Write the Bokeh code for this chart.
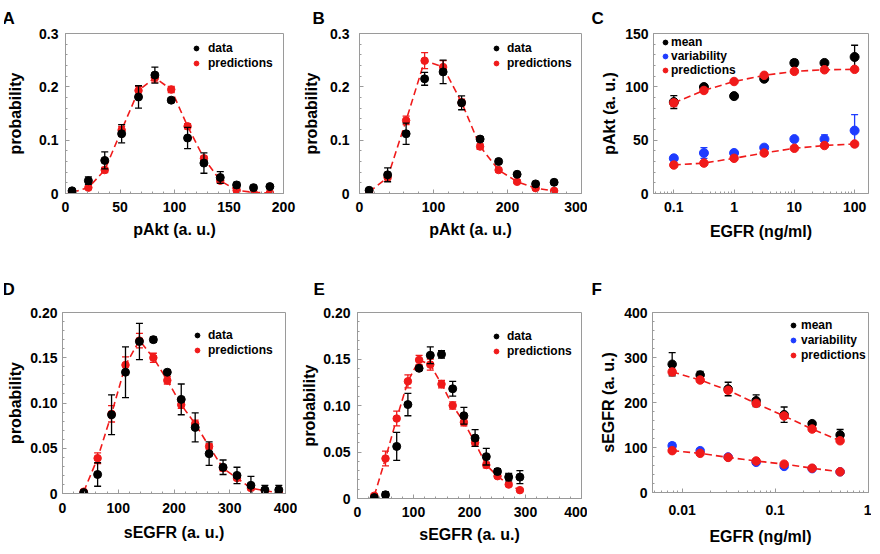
from bokeh.plotting import figure
from bokeh.models import (Range1d, FixedTicker, ColumnDataSource, Legend, LegendItem, Spacer)
from bokeh.layouts import row, column
from bokeh.embed import file_html
from bokeh.resources import INLINE

FONT = "Liberation Sans"
RED = "#f01a1a"
BLACK = "#000000"
BLUE = "#1e3cff"
GRAY = "#9a9a9a"

# ---------------- data ----------------
# Panel A: pAkt distribution
a_x = [6, 21, 36, 51.5, 67, 82, 97, 112, 127, 142, 157, 172.5, 187.5]
a_data = [0.005, 0.024, 0.062, 0.112, 0.181, 0.222, 0.175, 0.104, 0.057, 0.030, 0.016, 0.011, 0.013]
a_data_err = [0.002, 0.007, 0.016, 0.017, 0.021, 0.015, 0.004, 0.020, 0.019, 0.011, 0.005, 0.004, 0.003]
a_pred = [0.002, 0.011, 0.044, 0.119, 0.193, 0.217, 0.195, 0.126, 0.066, 0.024, 0.006, 0.002, 0.001]
a_pred_err = [0.001, 0.003, 0.005, 0.007, 0.008, 0.008, 0.006, 0.005, 0.004, 0.003, 0.002, 0.001, 0.001]

# Panel B: pAkt distribution
b_x = [13, 38, 63, 88, 113, 138, 163, 188, 213, 238, 263]
b_data = [0.006, 0.035, 0.112, 0.215, 0.228, 0.170, 0.102, 0.060, 0.036, 0.018, 0.021]
b_data_err = [0.002, 0.013, 0.020, 0.012, 0.022, 0.013, 0.004, 0.004, 0.003, 0.002, 0.002]
b_pred = [0.003, 0.030, 0.137, 0.249, 0.237, 0.171, 0.088, 0.044, 0.022, 0.010, 0.005]
b_pred_err = [0.001, 0.004, 0.008, 0.015, 0.012, 0.006, 0.005, 0.004, 0.003, 0.002, 0.001]

# Panel C: pAkt vs EGFR
c_x = [0.1, 0.316, 1, 3.16, 10, 31.6, 100]
c_mean = [85.7, 99.8, 91.3, 107.6, 122.4, 122.4, 128]
c_mean_err = [6, 2, 2, 1.5, 3, 2, 11]
c_var = [33, 38, 38, 43, 51, 51, 59]
c_var_err = [2, 5, 2, 2, 2, 4, 15]
c_pred_mean = [85, 96.6, 105, 110.8, 114.5, 116, 116.4]
c_pred_mean_err = [3, 2, 1.5, 1.5, 1.5, 1.5, 1.5]
c_pred_var = [26.7, 28.5, 33, 38, 42.4, 45, 46.4]
c_pred_var_err = [1.5, 1.5, 1.5, 1.5, 1.5, 1.5, 1.5]

# Panel D: sEGFR distribution
d_x = [38, 63, 88, 113, 138, 163, 188, 213, 238, 263, 288, 313, 338, 363, 388]
d_data = [0.001, 0.021, 0.087, 0.134, 0.168, 0.170, 0.134, 0.104, 0.073, 0.044, 0.029, 0.020, 0.009, 0.004, 0.004]
d_data_err = [0.001, 0.013, 0.022, 0.028, 0.020, 0.003, 0.002, 0.017, 0.016, 0.013, 0.008, 0.009, 0.010, 0.005, 0.005]
d_pred = [0.002, 0.039, 0.088, 0.142, 0.169, 0.150, 0.125, 0.098, 0.077, 0.052, 0.028, 0.017, 0.006, 0.003, 0.001]
d_pred_err = [0.001, 0.006, 0.009, 0.009, 0.008, 0.005, 0.004, 0.004, 0.004, 0.003, 0.003, 0.002, 0.002, 0.001, 0.001]

# Panel E: sEGFR distribution
e_x = [30, 50, 70, 90, 110, 130, 150, 170, 190, 210, 230, 250, 270, 290]
e_data = [0.001, 0.004, 0.056, 0.101, 0.140, 0.154, 0.155, 0.118, 0.089, 0.065, 0.045, 0.029, 0.023, 0.023]
e_data_err = [0.001, 0.003, 0.015, 0.012, 0.002, 0.009, 0.004, 0.008, 0.009, 0.009, 0.009, 0.003, 0.004, 0.007]
e_pred = [0.003, 0.043, 0.086, 0.126, 0.149, 0.144, 0.123, 0.100, 0.082, 0.060, 0.036, 0.024, 0.015, 0.009]
e_pred_err = [0.002, 0.008, 0.008, 0.007, 0.005, 0.006, 0.004, 0.004, 0.004, 0.004, 0.003, 0.002, 0.002, 0.001]

# Panel F: sEGFR vs EGFR
f_x = [0.0078125, 0.015625, 0.03125, 0.0625, 0.125, 0.25, 0.5]
f_mean = [285, 261, 230, 204, 173, 153, 128]
f_mean_err = [26, 8, 15, 13, 17, 5, 12]
f_var = [104, 93, 79, 67, 58, 53, 46]
f_var_err = [6, 5, 4, 4, 4, 3, 3]
f_pred_mean = [268, 250, 227, 198, 170, 141, 115]
f_pred_mean_err = [6, 4, 4, 4, 4, 3, 3]
f_pred_var = [93, 87, 78, 70, 63, 54, 46]
f_pred_var_err = [3, 3, 2, 2, 2, 2, 2]

# tick definitions
prob3_ticks = [0, 0.1, 0.2, 0.3]
prob3_labels = ["0", "0.1", "0.2", "0.3"]
prob2_ticks = [0, 0.05, 0.10, 0.15, 0.20]
prob2_labels = ["0", "0.05", "0.10", "0.15", "0.20"]
a_xticks = [0, 50, 100, 150, 200]
a_xlabels = ["0", "50", "100", "150", "200"]
b_xticks = [0, 100, 200, 300]
b_xlabels = ["0", "100", "200", "300"]
de_xticks = [0, 100, 200, 300, 400]
de_xlabels = ["0", "100", "200", "300", "400"]
c_xticks = [0.1, 1, 10, 100]
c_xlabels = ["0.1", "1", "10", "100"]
c_yticks = [0, 50, 100, 150]
c_ylabels = ["0", "50", "100", "150"]
f_xticks = [0.01, 0.1, 1]
f_xlabels = ["0.01", "0.1", "1"]
f_yticks = [0, 100, 200, 300, 400]
f_ylabels = ["0", "100", "200", "300", "400"]


def lin_minor(lo, hi, step):
    n = int(round((hi - lo) / step))
    return [lo + i * step for i in range(n + 1)]


def log_minor(lo, hi):
    out = []
    for e in range(-4, 4):
        for m in range(1, 10):
            v = m * 10.0 ** e
            if lo <= v <= hi:
                out.append(v)
    return out


def style_axis(ax, ticks, labels, minor, std, lab_std, label):
    ax.ticker = FixedTicker(ticks=ticks, minor_ticks=minor)
    ax.axis_line_color = GRAY
    ax.major_tick_line_color = GRAY
    ax.minor_tick_line_color = GRAY
    ax.major_tick_in = 4
    ax.major_tick_out = 0
    ax.minor_tick_in = 2
    ax.minor_tick_out = 0
    ax.major_label_overrides = dict(zip(ticks, labels))
    ax.major_label_text_font = FONT
    ax.major_label_text_font_style = "bold"
    ax.major_label_text_font_size = "14px"
    ax.major_label_text_color = "black"
    ax.major_label_standoff = std
    ax.axis_label = label
    ax.axis_label_text_font = FONT
    ax.axis_label_text_font_style = "bold"
    ax.axis_label_text_font_size = "16px"
    ax.axis_label_text_color = "black"
    ax.axis_label_standoff = lab_std


def make_panel(letter, fw, fh, bl, br, bt, bb, xr, yr, log_x, t_off, t_std,
               xlabel, ylabel, xt, xl, xm, yt, yl, ym, xs, xls, ys, yls):
    p = figure(frame_width=fw, frame_height=fh, x_range=Range1d(*xr), y_range=Range1d(*yr),
               x_axis_type="log" if log_x else "linear", output_backend="svg",
               toolbar_location=None, min_border_left=bl, min_border_right=br,
               min_border_top=bt, min_border_bottom=bb, title=letter)
    p.title.text_font = FONT
    p.title.text_font_size = "17px"
    p.title.text_font_style = "bold"
    p.title.text_color = "black"
    p.title.align = "left"
    p.title.offset = t_off
    p.title.standoff = t_std
    p.xgrid.visible = False
    p.ygrid.visible = False
    p.outline_line_color = GRAY
    p.background_fill_color = "white"
    p.border_fill_color = "white"
    style_axis(p.xaxis[0], xt, xl, xm, xs, xls, xlabel)
    style_axis(p.yaxis[0], yt, yl, ym, ys, yls, ylabel)
    return p


def series(p, x, y, err, color, size, line=False):
    lo = [v - e for v, e in zip(y, err)]
    hi = [v + e for v, e in zip(y, err)]
    src = ColumnDataSource(dict(x=x, y=y, lo=lo, hi=hi))
    if line:
        p.line("x", "y", source=src, line_color=color, line_width=1.6, line_dash="7 4")
    p.segment(x0="x", y0="lo", x1="x", y1="hi", source=src, line_color=color, line_width=1.3)
    p.scatter("x", "lo", source=src, marker="dash", size=7, line_color=color, line_width=1.3)
    p.scatter("x", "hi", source=src, marker="dash", size=7, line_color=color, line_width=1.3)
    r = p.scatter("x", "y", source=src, size=size, fill_color=color, line_color=color)
    return r


def legend(p, items, vx, vy, spacing, standoff):
    lg = Legend(items=[LegendItem(label=t, renderers=[r]) for t, r in items],
                location=(vx, vy), orientation="vertical", padding=0, margin=0,
                spacing=spacing, glyph_width=12, glyph_height=14, label_height=14,
                label_standoff=standoff, border_line_alpha=0, background_fill_alpha=0,
                label_text_font=FONT, label_text_font_style="bold",
                label_text_font_size="12px", label_text_color="black")
    p.add_layout(lg)


# ---------------- panels ----------------
pa = make_panel("A", 218, 160, 58, 14, 25, 67, (0, 200), (0, 0.3), False, -63, 12,
                "pAkt (a. u.)", "probability", a_xticks, a_xlabels, lin_minor(0, 200, 10),
                prob3_ticks, prob3_labels, lin_minor(0, 0.3, 0.02), 8, 6, 7, 12)
ra = series(pa, a_x, a_pred, a_pred_err, RED, 7.5, line=True)
ka = series(pa, a_x, a_data, a_data_err, BLACK, 8)
legend(pa, [("data", ka), ("predictions", ra)], 125, 123, 1, 6)

pb = make_panel("B", 222, 160, 62, 6, 25, 67, (0, 300), (0, 0.3), False, -47, 12,
                "pAkt (a. u.)", "probability", b_xticks, b_xlabels, lin_minor(0, 300, 20),
                prob3_ticks, prob3_labels, lin_minor(0, 0.3, 0.02), 8, 6, 10, 7)
rb = series(pb, b_x, b_pred, b_pred_err, RED, 7.5, line=True)
kb = series(pb, b_x, b_data, b_data_err, BLACK, 8)
legend(pb, [("data", kb), ("predictions", rb)], 131, 123, 1, 5)

pc = make_panel("C", 215, 160, 66, 3, 25, 67, (0.046, 170), (0, 150), True, -62, 12,
                "EGFR (ng/ml)", "pAkt (a. u.)", c_xticks, c_xlabels, log_minor(0.046, 170),
                c_yticks, c_ylabels, lin_minor(0, 150, 10), 8, 8, 5, 4)
kc = series(pc, c_x, c_mean, c_mean_err, BLACK, 9)
bc = series(pc, c_x, c_var, c_var_err, BLUE, 9)
rc = series(pc, c_x, c_pred_mean, c_pred_mean_err, RED, 8.5, line=True)
series(pc, c_x, c_pred_var, c_pred_var_err, RED, 8.5, line=True)
legend(pc, [("mean", kc), ("variability", bc), ("predictions", rc)], 6, 116, 0, 0)

pd_ = make_panel("D", 223, 181, 55, 12, 51, 54, (0, 400), (0, 0.2), False, -60, 27,
                 "sEGFR (a. u.)", "probability", de_xticks, de_xlabels, lin_minor(0, 400, 20),
                 prob2_ticks, prob2_labels, lin_minor(0, 0.2, 0.01), 9, 8, 5, 3)
rd = series(pd_, d_x, d_pred, d_pred_err, RED, 7.5, line=True)
kd = series(pd_, d_x, d_data, d_data_err, BLACK, 8)
legend(pd_, [("data", kd), ("predictions", rd)], 129, 136, 1, 5)

pe = make_panel("E", 224, 186, 60, 6, 51, 49, (0, 400), (0, 0.2), False, -44, 27,
                "sEGFR (a. u.)", "probability", de_xticks, de_xlabels, lin_minor(0, 400, 20),
                prob2_ticks, prob2_labels, lin_minor(0, 0.2, 0.01), 8, 6, 7, 2)
re_ = series(pe, e_x, e_pred, e_pred_err, RED, 7.5, line=True)
ke = series(pe, e_x, e_data, e_data_err, BLACK, 8)
legend(pe, [("data", ke), ("predictions", re_)], 133, 140, 1, 5)

pf = make_panel("F", 216, 180, 65, 3, 52, 54, (0.0048, 1.01), (0, 400), True, -61, 27,
                "EGFR (ng/ml)", "sEGFR (a. u.)", f_xticks, f_xlabels, log_minor(0.0048, 1.01),
                f_yticks, f_ylabels, lin_minor(0, 400, 20), 12, 10, 5, 4)
kf = series(pf, f_x, f_mean, f_mean_err, BLACK, 8.5)
bf = series(pf, f_x, f_var, f_var_err, BLUE, 8.5)
rf = series(pf, f_x, f_pred_mean, f_pred_mean_err, RED, 8.5, line=True)
series(pf, f_x, f_pred_var, f_pred_var_err, RED, 8.5, line=True)
legend(pf, [("mean", kf), ("variability", bf), ("predictions", rf)], 135, 130, 1, 2)

layout = column(row(Spacer(width=4, height=10), pa, pb, pc),
                row(Spacer(width=4, height=10), pd_, pe, pf))
open("out.html", "w").write(file_html(layout, INLINE))
